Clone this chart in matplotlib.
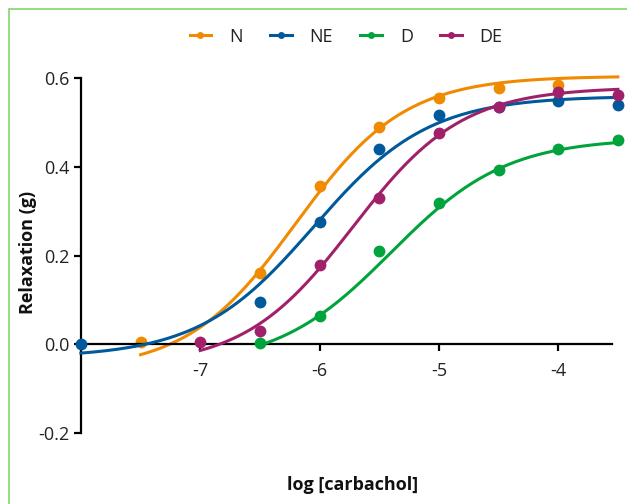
import numpy as np
import matplotlib
matplotlib.use("Agg")
import matplotlib.pyplot as plt
from matplotlib import font_manager
from matplotlib.patches import Rectangle

names = {f.name for f in font_manager.fontManager.ttflist}
fam = [f for f in ["Liberation Sans Narrow", "Open Sans", "DejaVu Sans"] if f in names]
plt.rcParams['font.family'] = fam + ["DejaVu Sans"]

# Data
series = ["N", "NE", "D", "DE"]
colors = ["#F08A00", "#00599B", "#00A33C", "#A0216A"]
x_N = [-7.5, -6.5, -6.0, -5.5, -5.0, -4.5, -4.0]
y_N = [0.005, 0.162, 0.356, 0.490, 0.555, 0.578, 0.585]
x_NE = [-8.0, -6.5, -6.0, -5.5, -5.0, -4.5, -4.0, -3.5]
y_NE = [0.0, 0.095, 0.275, 0.441, 0.518, 0.535, 0.548, 0.539]
x_D = [-6.5, -6.0, -5.5, -5.0, -4.5, -4.0, -3.5]
y_D = [0.004, 0.063, 0.210, 0.318, 0.393, 0.441, 0.462]
x_DE = [-7.0, -6.5, -6.0, -5.5, -5.0, -4.5, -4.0, -3.5]
y_DE = [0.005, 0.030, 0.180, 0.329, 0.477, 0.535, 0.569, 0.562]

# fitted sigmoid parameters: bottom, top, logEC50, hill
fit_bottom = [-0.06, -0.03, -0.05, -0.05]
fit_top = [0.605, 0.56, 0.465, 0.58]
fit_ec50 = [-6.2, -6.05, -5.4, -5.72]
fit_hill = [0.95, 0.9, 0.9, 0.95]
fit_start = [-7.5, -8.0, -6.5, -7.0]
fit_end = [-3.5, -3.5, -3.5, -3.5]

xs = [x_N, x_NE, x_D, x_DE]
ys = [y_N, y_NE, y_D, y_DE]

fig = plt.figure(figsize=(6.27, 5.04), dpi=100)
ax = fig.add_axes([0.129, 0.1409, 0.847, 0.7037])

for i, name in enumerate(series):
    xx = np.linspace(fit_start[i], fit_end[i], 200)
    B, T, E, H = fit_bottom[i], fit_top[i], fit_ec50[i], fit_hill[i]
    yy = B + (T - B) / (1 + 10 ** ((E - xx) * H))
    ax.plot(xx, yy, color=colors[i], lw=2.2, clip_on=False, zorder=2 + i)
    ax.plot(xs[i], ys[i], 'o', color=colors[i], ms=8.5, mec='none', clip_on=False, zorder=2 + i)

handles = [plt.Line2D([], [], color=c, lw=2.2, marker='o', ms=5, mec='none') for c in colors]
leg = fig.legend(handles, series, loc='center', bbox_to_anchor=(0.552, 0.927), ncol=4,
                 frameon=False, fontsize=13, handlelength=1.2, handletextpad=1.0,
                 columnspacing=1.5)
for t in leg.get_texts():
    t.set_color('#222222')

ax.set_xlim(-8.0, -3.55)
ax.set_ylim(-0.2, 0.6)
ax.set_xticks([-7, -6, -5, -4])
ax.set_xticklabels(['-7', '-6', '-5', '-4'])
ax.set_yticks([-0.2, 0.0, 0.2, 0.4, 0.6])
ax.set_yticklabels(['-0.2', '0.0', '0.2', '0.4', '0.6'])
ax.spines['top'].set_visible(False)
ax.spines['right'].set_visible(False)
ax.spines['bottom'].set_position(('data', 0))
for s in ['left', 'bottom']:
    ax.spines[s].set_linewidth(1.6)
ax.tick_params(axis='both', direction='out', length=5, width=1.6, labelsize=13,
               labelcolor='#222222', pad=3)
ax.tick_params(axis='x', pad=8)

fig.text(0.045, 0.50, 'Relaxation (g)', rotation=90, ha='center', va='center',
         fontsize=13, fontweight='bold', color='#111111')
fig.text(0.562, 0.037, 'log [carbachol]', ha='center', va='center',
         fontsize=13, fontweight='bold', color='#111111')

fig.patches.append(Rectangle((9 / 627, -0.2), 1.2, 1.2 - 9 / 504, transform=fig.transFigure,
                             fill=False, edgecolor='#86D46A', lw=1.2))

fig.savefig('out.png', dpi=100)
